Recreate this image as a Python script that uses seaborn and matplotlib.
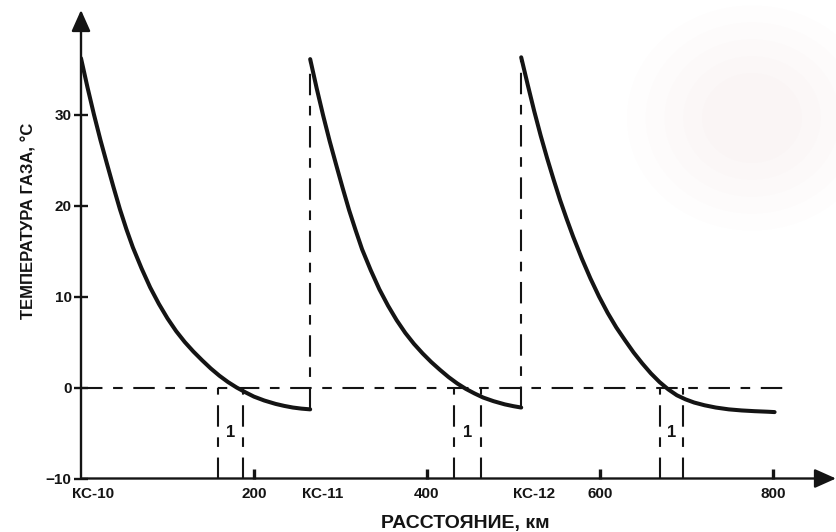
import matplotlib
matplotlib.use("Agg")
import matplotlib.pyplot as plt
from matplotlib.patches import Ellipse
import pandas as pd
import seaborn as sns

# Compressor stations along the pipeline (km) and their names
station_km = [0, 265, 509]
station_names = ["КС-10", "КС-11", "КС-12"]

# Gas temperature downstream of each station: distance (km), temperature (°C)
seg1_km = [0, 7.5, 15, 22.5, 30, 37.5, 45, 52.5, 60, 70, 80, 90, 100, 110, 120, 130,
           140, 150, 160, 170, 180, 190, 200, 212, 225, 235, 245, 255, 265]
seg1_temp = [36.2, 33.0, 30.0, 27.2, 24.6, 22.05, 19.6, 17.4, 15.4, 13.1, 11.0, 9.2, 7.6,
             6.2, 5.0, 3.95, 3.0, 2.1, 1.3, 0.6, 0.0, -0.52, -1.0, -1.43, -1.8, -2.02,
             -2.2, -2.32, -2.4]

seg2_km = [265, 272.5, 280, 287.5, 295, 302.5, 310, 317.5, 325, 335, 345, 355, 365, 375,
           385, 395, 405, 415, 425, 435, 445, 455, 465, 477, 490, 500, 509]
seg2_temp = [36.1, 32.9, 29.9, 27.1, 24.5, 21.95, 19.5, 17.3, 15.2, 12.9, 10.8, 9.0, 7.4,
             6.0, 4.8, 3.75, 2.8, 1.95, 1.15, 0.45, -0.15, -0.65, -1.1, -1.5, -1.85,
             -2.05, -2.2]

seg3_km = [509, 516.5, 524, 531.5, 539, 546.5, 554, 561.5, 569, 579, 589, 599, 609, 619,
           629, 639, 649, 659, 669, 679, 689, 699, 709, 721, 734, 749, 764, 779, 794, 802]
seg3_temp = [36.3, 33.3, 30.4, 27.7, 25.2, 22.85, 20.6, 18.55, 16.6, 14.2, 12.0, 10.0, 8.2,
             6.6, 5.2, 3.85, 2.65, 1.55, 0.6, -0.2, -0.85, -1.3, -1.65, -1.95, -2.2,
             -2.4, -2.52, -2.6, -2.66, -2.7]

# Zones "1" around the zero crossing (left and right boundaries, km)
zone_left = [158, 431, 669]
zone_right = [187, 463, 696]
zone_label = "1"

x_ticks = [200, 400, 600, 800]
y_ticks = [-10, 0, 10, 20, 30]
zero_line_end = 820

x_label = "РАССТОЯНИЕ, км"
y_label = "ТЕМПЕРАТУРА ГАЗА, °С"

sns.set_theme(style="white")
plt.rcParams["font.family"] = ["Liberation Sans", "DejaVu Sans"]
plt.rcParams["font.weight"] = "bold"

INK = "#141414"
W, H = 836, 532
fig = plt.figure(figsize=(W / 100, H / 100), dpi=100)
fig.patch.set_facecolor("white")

# faint pink tint on the paper in the upper right
for k in range(5):
    s = 1 - 0.15 * k
    fig.patches.append(Ellipse((752 / W, 1 - 118 / H), 250 * s / W, 225 * s / H,
                               transform=fig.transFigure, facecolor="#f7d2d0",
                               edgecolor="none", alpha=0.04, zorder=0))

ax = fig.add_axes([81 / W, 1 - 478.5 / H, 755 / W, 468.5 / H])
ax.set_facecolor("none")
ax.set_xlim(0, 873)
ax.set_ylim(-10, 41.5)

frames = []
for i, (xs, ys) in enumerate([(seg1_km, seg1_temp), (seg2_km, seg2_temp), (seg3_km, seg3_temp)]):
    frames.append(pd.DataFrame({"km": xs, "temp": ys, "segment": i}))
df = pd.concat(frames, ignore_index=True)

sns.lineplot(data=df, x="km", y="temp", units="segment", estimator=None,
             color=INK, lw=2.9, ax=ax, zorder=4, legend=False)
for line in ax.get_lines():
    line.set_solid_joinstyle("round")
    line.set_solid_capstyle("round")

dash = (0, (10.3, 5.1, 4.6, 5.1))
dash_kw = dict(color=INK, lw=1.5, linestyle=dash, zorder=3)

# zero-degree reference line
ax.plot([0, zero_line_end], [0, 0], **dash_kw)

# temperature jump at the downstream stations
for km, lo, hi in [(station_km[1], seg1_temp[-1], seg2_temp[0]),
                   (station_km[2], seg2_temp[-1], seg3_temp[0])]:
    ax.plot([km, km], [lo, hi], **dash_kw)

# zone boundaries and labels
for xl, xr in zip(zone_left, zone_right):
    ax.plot([xl, xl], [-10, 0], **dash_kw)
    ax.plot([xr, xr], [-10, 0], **dash_kw)
    ax.text((xl + xr) / 2, -4.9, zone_label, ha="center", va="center",
            fontsize=12, fontweight="bold", color=INK)

# axes drawn as arrows
for spine in ax.spines.values():
    spine.set_visible(False)
arrow_kw = dict(arrowstyle="-|>,head_length=0.65,head_width=0.29", color=INK,
                lw=1.7, shrinkA=0, shrinkB=0, mutation_scale=20)
ax.annotate("", xy=(1, 0), xytext=(0, 0), xycoords="axes fraction", arrowprops=arrow_kw,
            annotation_clip=False)
ax.annotate("", xy=(0, 1), xytext=(0, 0), xycoords="axes fraction", arrowprops=arrow_kw,
            annotation_clip=False)

ax.set_xticks(x_ticks)
ax.set_xticklabels([str(t) for t in x_ticks])
ax.set_yticks(y_ticks)
ax.set_yticklabels([str(t).replace("-", "\u2212") for t in y_ticks])
ax.tick_params(axis="x", direction="in", length=7, width=2.4, pad=6, colors=INK,
               labelsize=11, bottom=True)
ax.tick_params(axis="y", direction="inout", length=9.5, width=1.7, pad=2.0, colors=INK,
               labelsize=11, left=True)
for lab in ax.get_xticklabels() + ax.get_yticklabels():
    lab.set_fontweight("bold")

for km, name in zip(station_km, station_names):
    ax.annotate(name, xy=(km, 0), xycoords=("data", "axes fraction"),
                xytext=(9, -6), textcoords="offset points", ha="center", va="top",
                fontsize=11, fontweight="bold", color=INK, annotation_clip=False)

ax.set_xlabel(x_label, fontsize=14, fontweight="bold", color=INK)
ax.xaxis.set_label_coords(0.5086, -0.097)
ax.xaxis.label.set_va("center")
ax.set_ylabel(y_label, fontsize=12, fontweight="bold", color=INK)
ax.yaxis.set_label_coords(-0.0695, 0.5496)
ax.yaxis.label.set_va("center")

fig.savefig("out.png", dpi=100, facecolor="white")
